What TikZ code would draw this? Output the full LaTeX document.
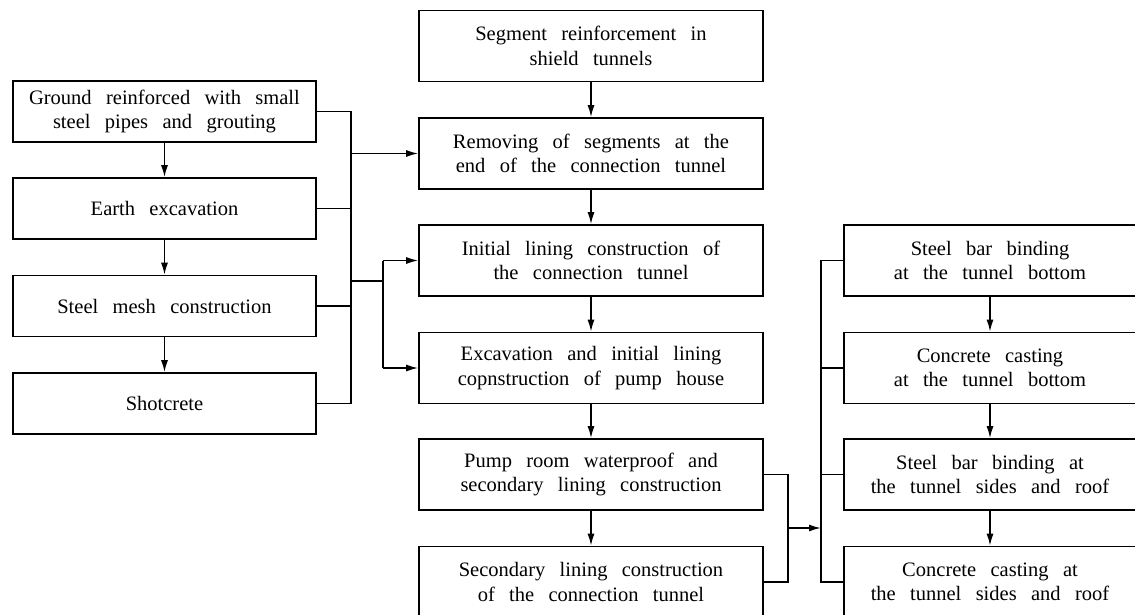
\documentclass[tikz,border=0pt]{standalone}
\usepackage{fontspec}
\setmainfont{Liberation Serif}
\usetikzlibrary{positioning, arrows.meta}
\newcommand{\flowfont}{\fontsize{20.5}{24.5}\selectfont\spaceskip=0.7em plus 0.1em\relax}

\begin{document}
\begin{tikzpicture}
          [x=1pt, y=-1pt, line width=1.6pt,
           box/.style={draw, align=center, inner sep=0pt, font=\flowfont},
           lbox/.style={box, minimum width=303pt, minimum height=61pt},
           mbox/.style={box, minimum width=344pt, minimum height=71pt},
           rbox/.style={box, minimum width=292pt, minimum height=71pt},
           arr/.style={-{Latex[length=12pt, width=7pt]}}]
            \clip (0,0) rectangle (1135,615);
            % left column
            \node (Ground) [lbox] at (164.5,111.5) {Ground reinforced with small\\steel pipes and grouting};
            \node (Earth) [lbox] at (164.5,208.5) {Earth excavation};
            \node (Mesh) [lbox] at (164.5,306) {Steel mesh construction};
            \node (Shot) [lbox] at (164.5,403.5) {Shotcrete};
            % middle column
            \node (Segment) [mbox] at (591,46) {Segment reinforcement in\\shield tunnels};
            \node (Remove) [mbox] at (591,153.5) {Removing of segments at the\\end of the connection tunnel};
            \node (Initial) [mbox] at (591,260.5) {Initial lining construction of\\the connection tunnel};
            \node (Pump) [mbox] at (591,368) {Excavation and initial lining\\copnstruction of pump house};
            \node (Water) [mbox] at (591,474.5) {Pump room waterproof and\\secondary lining construction};
            \node (Second) [mbox] at (591,582) {Secondary lining construction\\of the connection tunnel};
            % right column
            \node (BarBot) [rbox] at (990,260.5) {Steel bar binding\\at the tunnel bottom};
            \node (CastBot) [rbox] at (990,368) {Concrete casting\\at the tunnel bottom};
            \node (BarSide) [rbox] at (990,474.5) {Steel bar binding at\\the tunnel sides and roof};
            \node (CastSide) [rbox] at (990,582) {Concrete casting at\\the tunnel sides and roof};
            % chains
            \foreach \a/\b in {Ground/Earth, Earth/Mesh, Mesh/Shot,
                               Segment/Remove, Remove/Initial, Initial/Pump, Pump/Water, Water/Second,
                               BarBot/CastBot, CastBot/BarSide, BarSide/CastSide}
              \draw[arr] (\a) -- (\b);
            % left bus
            \coordinate (LBus) at (351,153.5);
            \coordinate (LFork) at (383,281);
            \draw (Ground.east) -| (351,403.5) -- (Shot.east);
            \draw (Earth.east) -- (Earth.east -| LBus);
            \draw (Mesh.east) -- (Mesh.east -| LBus);
            \draw[arr] (LBus) -- (Remove.west);
            \draw (LFork -| LBus) -- (LFork);
            \draw[arr] (Initial.west -| LFork) -- (Initial.west);
            \draw[arr] (Pump.west -| LFork) -- (Pump.west);
            \draw (Initial.west -| LFork) -- (Pump.west -| LFork);
            % right bus
            \coordinate (MBus) at (788,528);
            \coordinate (RBus) at (821,528);
            \draw (Water.east) -| (MBus) |- (Second.east);
            \draw[arr] (MBus) -- (RBus);
            \draw (BarBot.west) -| (RBus) |- (CastSide.west);
            \draw (CastBot.west) -- (CastBot.west -| RBus);
            \draw (BarSide.west) -- (BarSide.west -| RBus);
\end{tikzpicture}
\end{document}
